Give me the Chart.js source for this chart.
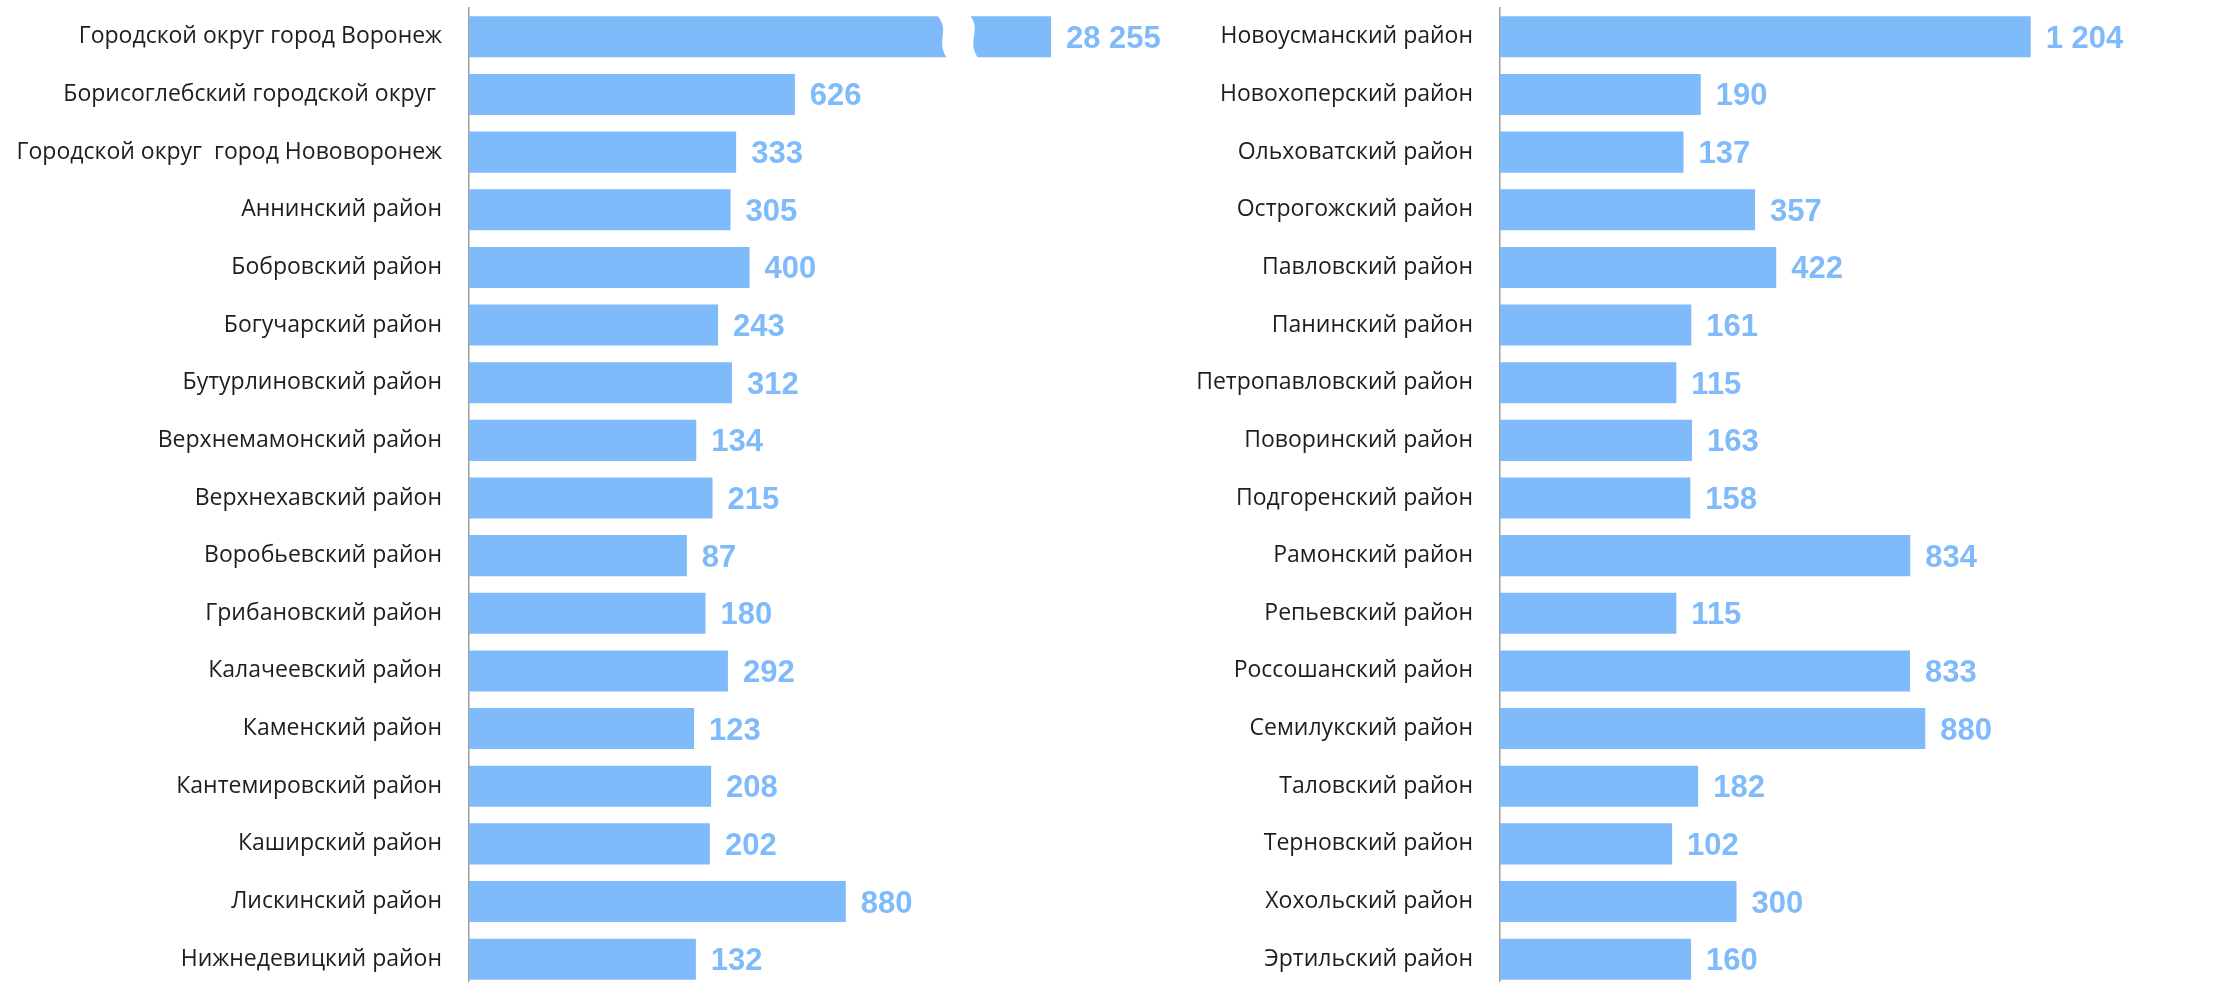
<!DOCTYPE html>
<html>
<head>
<meta charset="utf-8">
<script src="https://cdn.jsdelivr.net/npm/chart.js@4.4.1/dist/chart.umd.min.js"></script>
<style>
  html, body { margin: 0; padding: 0; background: #ffffff; overflow: hidden; width: 2222px; height: 982px; }
  #wrapL { position: absolute; left: 0; top: 0; width: 1180px; height: 992px; }
  #wrapR { position: absolute; left: 1180px; top: 0; width: 1042px; height: 992px; }
</style>
</head>
<body>
<div id="wrapL"><canvas id="left" width="1180" height="992"></canvas></div>
<div id="wrapR"><canvas id="right" width="1042" height="992"></canvas></div>
<script>
// ---- DATA ----
const leftCategories = [
  "Городской округ город Воронеж",
  "Борисоглебский городской округ ",
  "Городской округ  город Нововоронеж",
  "Аннинский район",
  "Бобровский район",
  "Богучарский район",
  "Бутурлиновский район",
  "Верхнемамонский район",
  "Верхнехавский район",
  "Воробьевский район",
  "Грибановский район",
  "Калачеевский район",
  "Каменский район",
  "Кантемировский район",
  "Каширский район",
  "Лискинский район",
  "Нижнедевицкий район"
];
const leftValues = [28255, 626, 333, 305, 400, 243, 312, 134, 215, 87, 180, 292, 123, 208, 202, 880, 132];

const rightCategories = [
  "Новоусманский район",
  "Новохоперский район",
  "Ольховатский район",
  "Острогожский район",
  "Павловский район",
  "Панинский район",
  "Петропавловский район",
  "Поворинский район",
  "Подгоренский район",
  "Рамонский район",
  "Репьевский район",
  "Россошанский район",
  "Семилукский район",
  "Таловский район",
  "Терновский район",
  "Хохольский район",
  "Эртильский район"
];
const rightValues = [1204, 190, 137, 357, 422, 161, 115, 163, 158, 834, 115, 833, 880, 182, 102, 300, 160];

// ---- STYLE ----
const BAR_COLOR = '#7fbafb';
const LABEL_COLOR = '#7fbafb';
const TEXT_COLOR = '#1e1e1e';
const AXIS_COLOR = '#9e9e9e';

function fmt(v) {
  return String(v).replace(/\B(?=(\d{3})+(?!\d))/g, ' ');
}

const valueLabels = {
  id: 'valueLabels',
  afterDatasetsDraw(chart) {
    const ctx = chart.ctx;
    const area = chart.chartArea;
    const meta = chart.getDatasetMeta(0);
    const data = chart.data.datasets[0].data;
    ctx.save();
    ctx.font = 'bold 31px "Liberation Sans", Arial, sans-serif';
    ctx.fillStyle = LABEL_COLOR;
    ctx.textAlign = 'left';
    ctx.textBaseline = 'alphabetic';
    meta.data.forEach((el, i) => {
      const x = Math.min(el.x, area.right) + 15;
      ctx.fillText(fmt(data[i]), x, el.y + 11);
    });
    ctx.restore();
  }
};

const barBreak = {
  id: 'barBreak',
  afterDatasetsDraw(chart) {
    const ctx = chart.ctx;
    const area = chart.chartArea;
    const meta = chart.getDatasetMeta(0);
    const data = chart.data.datasets[0].data;
    const max = chart.scales.x.max;
    meta.data.forEach((el, i) => {
      if (data[i] <= max) return;
      const top = el.y - el.height / 2 - 2;
      const bot = el.y + el.height / 2 + 2;
      const h = bot - top;
      const xl = area.right - 115;
      const xr = area.right - 82;
      ctx.save();
      ctx.fillStyle = '#ffffff';
      ctx.beginPath();
      ctx.moveTo(xl, top);
      ctx.bezierCurveTo(xl + 16, top + h * 0.35, xl - 2, top + h * 0.6, xl + 12, bot);
      ctx.lineTo(xr + 10, bot);
      ctx.bezierCurveTo(xr - 4, top + h * 0.6, xr + 14, top + h * 0.35, xr, top);
      ctx.closePath();
      ctx.fill();
      ctx.restore();
    });
  }
};

function makeChart(id, cats, vals, yWidth, xMin, xMax, padRight) {
  return new Chart(document.getElementById(id), {
    type: 'bar',
    data: {
      labels: cats,
      datasets: [{
        data: vals,
        base: xMin,
        backgroundColor: BAR_COLOR,
        borderWidth: 0,
        barPercentage: 1,
        categoryPercentage: 0.712
      }]
    },
    options: {
      indexAxis: 'y',
      responsive: false,
      animation: false,
      devicePixelRatio: 1,
      layout: { padding: { top: 8, bottom: 4, right: padRight, left: 0 } },
      plugins: { legend: { display: false }, tooltip: { enabled: false } },
      scales: {
        x: {
          type: 'linear',
          min: xMin,
          max: xMax,
          display: false
        },
        y: {
          type: 'category',
          grid: { display: false, drawTicks: false },
          border: { display: true, color: AXIS_COLOR, width: 1.5 },
          ticks: {
            autoSkip: false,
            padding: 27,
            color: TEXT_COLOR,
            font: { family: '"Open Sans", sans-serif', size: 23 }
          },
          afterFit(scale) {
            scale.width = yWidth;
            scale.paddingTop = 0;
            scale.paddingBottom = 0;
          }
        }
      }
    },
    plugins: [barBreak, valueLabels]
  });
}

makeChart('left', leftCategories, leftValues, 469, -1000, 1904, 129);
makeChart('right', rightCategories, rightValues, 320, -427, 1500, 95);
</script>
</body>
</html>
